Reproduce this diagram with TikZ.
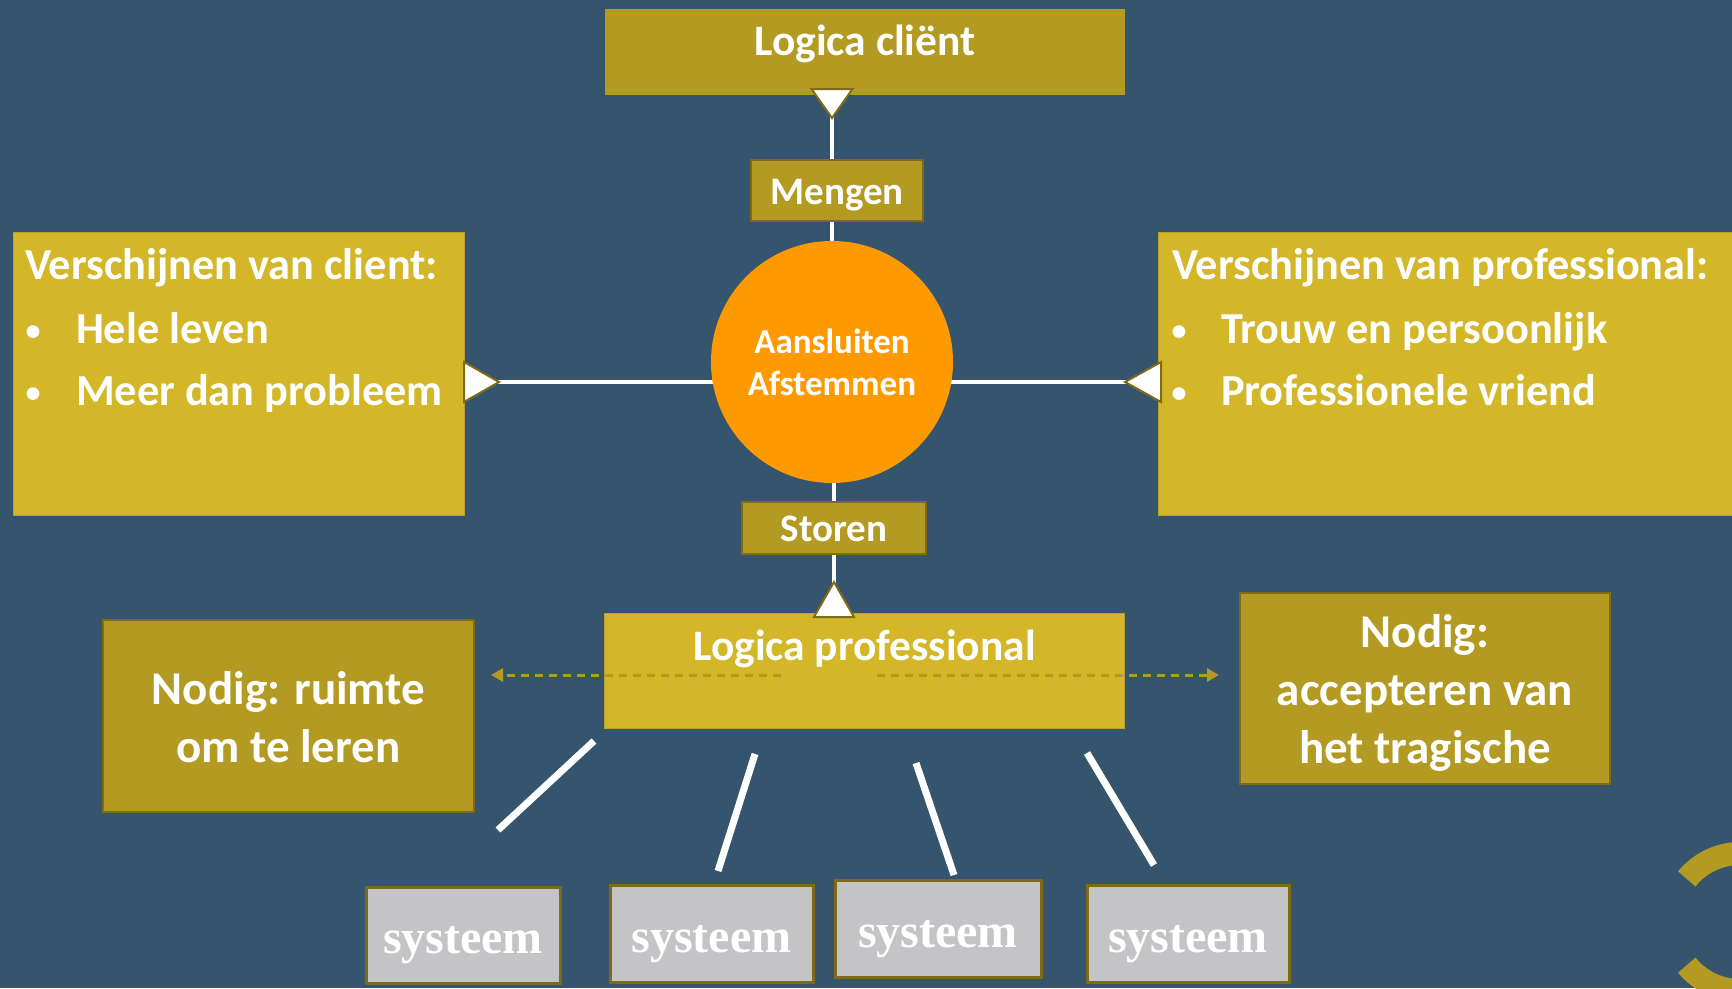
\documentclass[tikz,border=0pt]{standalone}
\usepackage{fontspec}
\setmainfont{Carlito}
\newfontfamily\sysfont{Liberation Serif}
\usetikzlibrary{arrows.meta,calc}
\definecolor{bg}{HTML}{35556F}
\definecolor{dgold}{HTML}{B39A22}
\definecolor{lgold}{HTML}{D3B729}
\definecolor{dborder}{HTML}{7F6A17}
\definecolor{lborder}{HTML}{B8A02A}
\definecolor{orng}{HTML}{FF9900}
\definecolor{sgray}{HTML}{C4C4C6}
\newcommand\fsz[1]{\fontsize{#1}{#1}\selectfont}
\begin{document}
\begin{tikzpicture}[x=1pt,y=-1pt,
  every node/.style={inner sep=0pt,outer sep=0pt},
  darkbox/.style={rectangle,fill=dgold,draw=dborder,line width=2.5pt},
  lightbox/.style={rectangle,fill=lgold,draw=lborder,line width=1pt},
  sysbox/.style={rectangle,fill=sgray,draw=dborder,line width=3pt},
  txt/.style={text=white,font=\bfseries\fsz{#1},anchor=base},
  txtw/.style={text=white,font=\bfseries\fsz{#1},anchor=base west},
  bul/.style={text=white,font=\bfseries\fsz{30},anchor=base},
  systxt/.style={text=white,font=\sysfont\bfseries\fsz{48},anchor=base},
  wline/.style={white,line width=4.5pt},
  sline/.style={white,line width=7pt},
  tri/.style={fill=white,draw=dborder,line width=2pt,line join=miter},
  darr/.style={dgold,line width=3pt,dash pattern=on 8pt off 6pt,-{Triangle[length=12pt,width=13pt]}},
  ring/.style={dgold,line width=23pt}
]
\useasboundingbox (0,0) rectangle (1732,988);
\fill[bg] (0,0) rectangle (1732,988);

% decorative ring at lower right
\begin{scope}
\clip (0,0) rectangle (1732,988);
\coordinate (ringc) at (1740,922);
\draw[ring] ([shift={(219:68.5)}]ringc) arc[start angle=219,end angle=330,radius=68.5];
\draw[ring] ([shift={(141:68.5)}]ringc) arc[start angle=141,end angle=30,radius=68.5];
\end{scope}

% anchor coordinates of the connectors
\coordinate (tTop) at (832,94);
\coordinate (tL) at (464,382);
\coordinate (tR) at (1158,382);
\coordinate (tBot) at (834,613);

% central circle position
\path (832,360) node[circle,minimum size=242pt] (circpos) {};

% connector lines
\draw[wline] (tTop) -- (tTop |- circpos.center);
\draw[wline] (tBot) -- (tBot |- circpos.center);
\draw[wline] (tL) -- (tL -| circpos.center);
\draw[wline] (tR) -- (tR -| circpos.center);

% boxes
\node[darkbox,draw=none,minimum width=520pt,minimum height=86pt] (client) at (865,52) {};
\node[darkbox,minimum width=172pt,minimum height=61pt] (mengen) at (837,190.5) {};
\node[darkbox,minimum width=184pt,minimum height=52pt] (storen) at (834,528) {};
\node[lightbox,minimum width=451pt,minimum height=283pt] (vcl) at (238.5,373.5) {};
\node[lightbox,minimum width=587pt,minimum height=283pt] (vpr) at (1451.5,373.5) {};
\node[lightbox,minimum width=520pt,minimum height=115pt] (prof) at (864.75,670.5) {};
\node[darkbox,minimum width=371pt,minimum height=192pt] (nodl) at (288.5,716) {};
\node[darkbox,minimum width=370pt,minimum height=191pt] (nodr) at (1425,688.5) {};

% circle
\node[circle,fill=orng,minimum size=242pt,text=white,align=center,
      font=\bfseries\fontsize{35}{42}\selectfont] (circ) at (832,362) {Aansluiten\\Afstemmen};

% arrow triangles
\draw[tri] ($(tTop)+(-20.5,-5)$) -- ($(tTop)+(20.5,-5)$) -- ($(tTop)+(0,24)$) -- cycle;
\draw[tri] ($(tL)+(0,-20)$) -- ($(tL)+(35,0)$) -- ($(tL)+(0,20)$) -- cycle;
\draw[tri] ($(tR)+(3,-20)$) -- ($(tR)+(-33,0)$) -- ($(tR)+(3,20)$) -- cycle;
\draw[tri] ($(tBot)+(-20,4)$) -- ($(tBot)+(0,-31)$) -- ($(tBot)+(20,4)$) -- cycle;

% dashed arrows
\coordinate (dl1) at (781,675);
\coordinate (dl2) at (491,675);
\coordinate (dr1) at (877,675);
\coordinate (dr2) at (1219,675);
\draw[darr] (dl1) -- (dl2);
\draw[darr] (dr1) -- (dr2);

% texts
\node[txt=43.5] (clientT) at (865,55) {Logica cliënt};
\node[txt=39] (mengenT) at (837,204) {Mengen};
\node[txt=39] (storenT) at (834,541) {Storen};
\node[txt=43.5] (profT) at (864.5,660) {Logica professional};

\node[txtw=44.3] (vclH) at (25,279) {Verschijnen van client:};
\node[bul] (vclB1) at (33,340) {•};
\node[bul] (vclB2) at (33,402) {•};
\node[txtw=44.3] (vclI1) at (76,343) {Hele leven};
\node[txtw=44.3] (vclI2) at (76,405) {Meer dan probleem};

\node[txtw=44.3] (vprH) at (1172,279) {Verschijnen van professional:};
\node[bul] (vprB1) at (1179,340) {•};
\node[bul] (vprB2) at (1179,402) {•};
\node[txtw=44.3] (vprI1) at (1221,343) {Trouw en persoonlijk};
\node[txtw=44.3] (vprI2) at (1221,405) {Professionele vriend};

\node[txt=47] (nodlT1) at (288.5,704) {Nodig: ruimte};
\node[txt=47] (nodlT2) at (288.5,762) {om te leren};
\node[txt=47] (nodrT1) at (1425,647) {Nodig:};
\node[txt=47] (nodrT2) at (1425,705) {accepteren van};
\node[txt=47] (nodrT3) at (1425,763) {het tragische};

% systeem boxes
\node[sysbox,minimum width=194pt,minimum height=96pt] (sys1) at (463,935) {};
\node[sysbox,minimum width=203pt,minimum height=97pt] (sys2) at (711.5,933.5) {};
\node[sysbox,minimum width=206pt,minimum height=97pt] (sys3) at (938,928.5) {};
\node[sysbox,minimum width=202pt,minimum height=97pt] (sys4) at (1188,933.5) {};
\node[systxt] (sys1T) at (463,953) {systeem};
\node[systxt] (sys2T) at (711.5,952) {systeem};
\node[systxt] (sys3T) at (938,947) {systeem};
\node[systxt] (sys4T) at (1188,952) {systeem};

% lines towards the systems
\coordinate (s1a) at (594,741); \coordinate (s1b) at (498,830);
\coordinate (s2a) at (755,754); \coordinate (s2b) at (718,871);
\coordinate (s3a) at (916,763); \coordinate (s3b) at (954,875);
\coordinate (s4a) at (1087,753); \coordinate (s4b) at (1154,865);
\draw[sline] (s1a) -- (s1b);
\draw[sline] (s2a) -- (s2b);
\draw[sline] (s3a) -- (s3b);
\draw[sline] (s4a) -- (s4b);
\end{tikzpicture}
\end{document}
